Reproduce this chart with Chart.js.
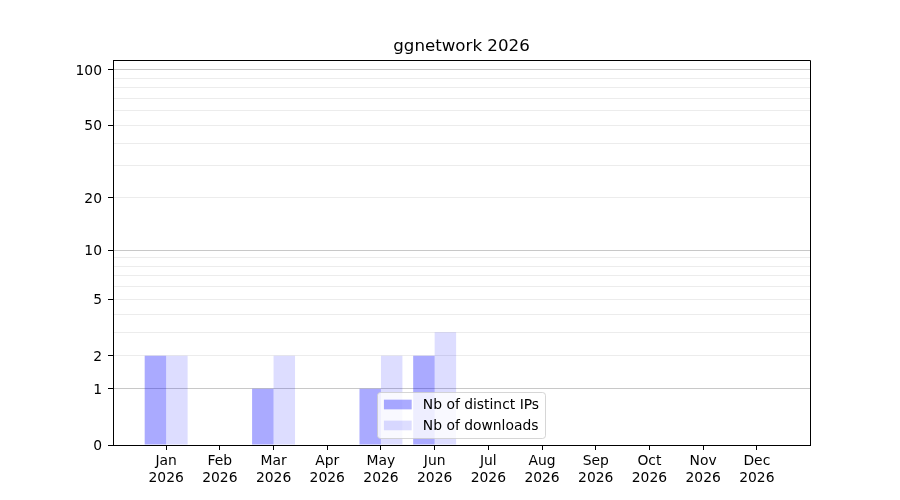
<!DOCTYPE html>
<html>
<head>
<meta charset="utf-8">
<script src="https://cdn.jsdelivr.net/npm/chart.js@4.4.1/dist/chart.umd.min.js"></script>
<style>
  body { margin: 0; background: #fff; }
</style>
</head>
<body>
<canvas id="chart" width="900" height="500"></canvas>
<script>
var chartTitle = 'ggnetwork 2026';
var months = ['Jan', 'Feb', 'Mar', 'Apr', 'May', 'Jun', 'Jul', 'Aug', 'Sep', 'Oct', 'Nov', 'Dec'];
var year = '2026';
var distinctIPs = [2, 0, 1, 0, 1, 2, 0, 0, 0, 0, 0, 0];
var downloads = [2, 0, 2, 0, 2, 3, 0, 0, 0, 0, 0, 0];
var yLabelTicks = [0, 1, 2, 5, 10, 20, 50, 100];
var yMinorTicks = [3, 4, 6, 7, 8, 9, 30, 40, 60, 70, 80, 90];
var yDecadeTicks = [1, 10, 100];
var yMax = 113;

// y axis in log10(1 + v) space, so 0 can sit on the axis
class Log1pScale extends Chart.LinearScale {
  static id = 'log1p';
  static defaults = {};
  buildTicks() {
    this.start = this.min;
    this.end = this.max;
    return yLabelTicks.concat(yMinorTicks).sort(function (a, b) { return a - b; })
      .map(function (v) { return { value: v }; });
  }
  getPixelForValue(value) {
    if (value === null || value === undefined || isNaN(value)) return NaN;
    var lo = Math.log10(1 + this.min), hi = Math.log10(1 + this.max);
    return this.getPixelForDecimal((Math.log10(1 + value) - lo) / (hi - lo));
  }
  getValueForPixel(pixel) {
    var lo = Math.log10(1 + this.min), hi = Math.log10(1 + this.max);
    return Math.pow(10, lo + this.getDecimalForPixel(pixel) * (hi - lo)) - 1;
  }
}
Chart.register(Log1pScale);

var pt = 100 / 72;
Chart.defaults.font.family = 'DejaVu Sans';
Chart.defaults.font.size = 10 * pt;
Chart.defaults.color = '#000';

// title, frame and matplotlib-like legend
var decorPlugin = {
  id: 'decor',
  afterDraw: function (chart) {
    var ctx = chart.ctx, a = chart.chartArea;
    ctx.save();
    ctx.strokeStyle = '#000';
    ctx.lineWidth = 1;
    ctx.beginPath();
    ctx.moveTo(Math.round(a.left) + 0.5, Math.round(a.top) + 0.5);
    ctx.lineTo(Math.round(a.right) + 0.5, Math.round(a.top) + 0.5);
    ctx.lineTo(Math.round(a.right) + 0.5, Math.round(a.bottom) + 0.5);
    ctx.stroke();

    ctx.fillStyle = '#000';
    ctx.font = (12 * pt) + 'px "DejaVu Sans"';
    ctx.textAlign = 'center';
    ctx.textBaseline = 'middle';
    ctx.fillText(chartTitle, (a.left + a.right) / 2, 47);

    var fs = 10 * pt, pad = 0.4 * fs, handleLen = 2 * fs, handlePad = 0.8 * fs, rowH = 14, gap = 0.5 * fs;
    ctx.font = fs + 'px "DejaVu Sans"';
    var sets = chart.data.datasets;
    var tw = 0;
    sets.forEach(function (d) { tw = Math.max(tw, ctx.measureText(d.label).width); });
    var w = 2 * pad + handleLen + handlePad + tw + 2;
    var h = 2 * pad + sets.length * rowH + (sets.length - 1) * gap;
    var x0 = (a.left + a.right) / 2 - w / 2;
    var y0 = a.bottom - 0.5 * fs - h;
    ctx.beginPath();
    ctx.roundRect(Math.round(x0) + 0.5, Math.round(y0) + 0.5, Math.round(w), Math.round(h), 3);
    ctx.fillStyle = 'rgba(255,255,255,0.8)';
    ctx.fill();
    ctx.strokeStyle = 'rgba(204,204,204,0.8)';
    ctx.stroke();
    sets.forEach(function (d, i) {
      var cy = y0 + pad + rowH / 2 + i * (rowH + gap);
      ctx.fillStyle = d.backgroundColor;
      ctx.fillRect(x0 + pad + 1, cy - 4.9, handleLen, 9.7);
      ctx.fillStyle = '#000';
      ctx.textAlign = 'left';
      ctx.fillText(d.label, x0 + pad + handleLen + handlePad + 1, cy + 0.5);
    });
    ctx.restore();
  }
};

function toPoints(values) {
  return values.map(function (v, i) { return { x: i, y: v }; });
}

new Chart(document.getElementById('chart'), {
  type: 'bar',
  data: {
    datasets: [
      {
        label: 'Nb of distinct IPs',
        data: toPoints(distinctIPs),
        backgroundColor: 'rgba(0,0,255,0.333)',
        borderWidth: 0,
        categoryPercentage: 0.8,
        barPercentage: 1.0
      },
      {
        label: 'Nb of downloads',
        data: toPoints(downloads),
        backgroundColor: 'rgba(0,0,255,0.133)',
        borderWidth: 0,
        categoryPercentage: 0.8,
        barPercentage: 1.0
      }
    ]
  },
  options: {
    responsive: false,
    animation: false,
    layout: { padding: { top: 60, right: 90, left: 0, bottom: 0 } },
    plugins: {
      legend: { display: false },
      title: { display: false },
      tooltip: { enabled: false }
    },
    scales: {
      x: {
        type: 'linear',
        min: -0.99,
        max: 11.99,
        offset: false,
        afterBuildTicks: function (scale) {
          scale.ticks = months.map(function (m, i) { return { value: i }; });
        },
        afterFit: function (scale) { scale.height = 55; },
        grid: { offset: false, drawOnChartArea: false, drawTicks: true, tickLength: 5, tickColor: '#000' },
        border: { color: '#000', width: 1 },
        ticks: {
          autoSkip: false,
          maxRotation: 0,
          padding: 3,
          callback: function (value) { return [months[value], year]; }
        }
      },
      y: {
        type: 'log1p',
        min: 0,
        max: yMax,
        afterFit: function (scale) { scale.width = 113; },
        grid: {
          tickLength: 5,
          color: function (c) {
            var v = c.tick ? c.tick.value : null;
            if (v === 0) return 'rgba(0,0,0,0)';
            if (yDecadeTicks.indexOf(v) >= 0) return '#c8c8c8';
            return '#ececec';
          },
          tickColor: function (c) {
            var v = c.tick ? c.tick.value : null;
            return yLabelTicks.indexOf(v) >= 0 ? '#000' : 'rgba(0,0,0,0)';
          }
        },
        border: { color: '#000', width: 1 },
        ticks: {
          autoSkip: false,
          padding: 6,
          labelOffset: 1.5,
          callback: function (value) {
            return yLabelTicks.indexOf(value) >= 0 ? String(value) : '';
          }
        }
      }
    }
  },
  plugins: [decorPlugin]
});
</script>
</body>
</html>
